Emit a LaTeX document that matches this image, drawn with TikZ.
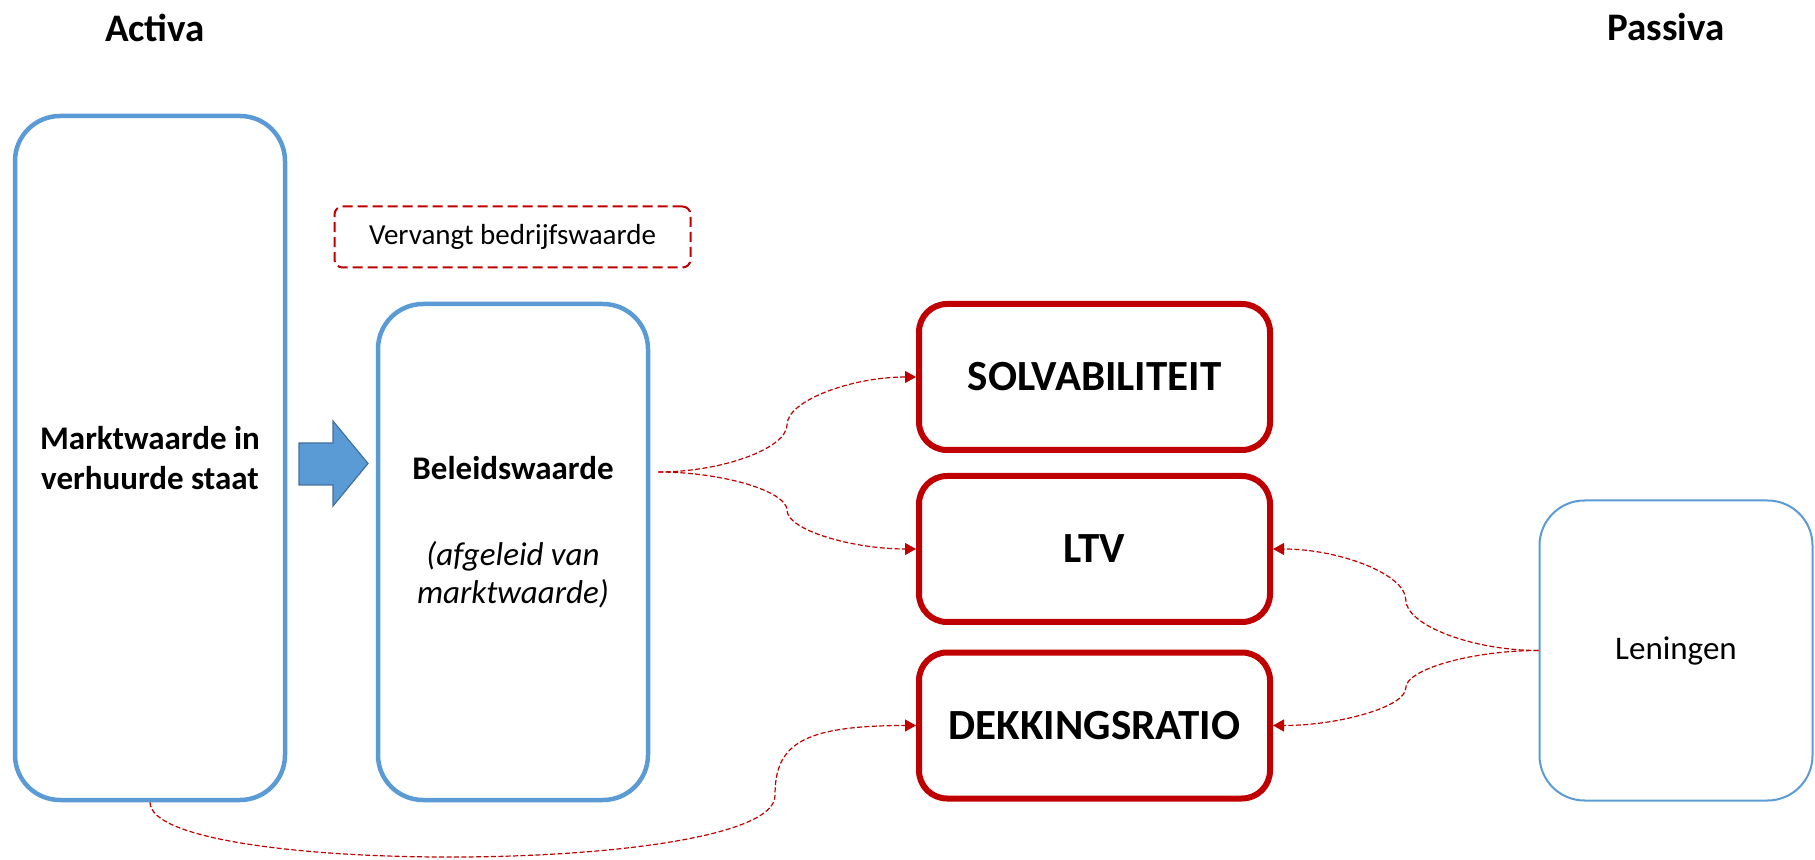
\documentclass[tikz,border=0pt]{standalone}
\usepackage{fontspec}
\setmainfont{Carlito}
\usetikzlibrary{arrows.meta,calc}
\definecolor{pblue}{HTML}{5B9BD5}
\definecolor{pdblue}{HTML}{41719C}
\definecolor{pred}{HTML}{C00000}
\begin{document}
\begin{tikzpicture}[x=0.5pt,y=-0.5pt,
  bluebox/.style={draw=pblue,line width=2.25pt,rounded corners=22.5pt,minimum width=135pt,align=center},
  redbox/.style={draw=pred,line width=3pt,rounded corners=14pt,minimum width=175.5pt,minimum height=73pt,font=\fontsize{21.5}{26}\selectfont\bfseries},
  conn/.style={draw=pred,line width=0.6pt,dash pattern=on 2.5pt off 1.2pt,-{Triangle[length=5.5pt,width=6pt]}},
  headtxt/.style={font=\fontsize{19.5}{23}\selectfont\bfseries},
  bodytxt/.style={font=\fontsize{16.5}{20.25}\selectfont\bfseries,align=center}]
\useasboundingbox (0,0) rectangle (1815,860);

% headers
\node[headtxt] (act) at (155,28) {Activa};
\node[headtxt] (pas) at (1666,27) {Passiva};

% blue boxes
\node[bluebox,minimum height=342pt,font=\fontsize{16.5}{20.25}\selectfont\bfseries] (A) at (150,458) {Marktwaarde in\\verhuurde staat};
\node[bluebox,minimum height=248pt] (B) at (513,552) {};
\node[bodytxt] (btitle) at (513,468) {Beleidswaarde};
\node[font=\fontsize{16.5}{19}\selectfont\itshape,align=center] (bsub) at (513,575) {(afgeleid van\\marktwaarde)};

% dashed note
\node[draw=pred,line width=1pt,dash pattern=on 5pt off 2.5pt,rounded corners=4pt,minimum width=178pt,minimum height=30.5pt,font=\fontsize{14.5}{17}\selectfont] (V) at (512.5,237) {Vervangt bedrijfswaarde};

% block arrow
\draw[draw=pdblue,fill=pblue,line width=0.6pt] (299,443) -- (333,443) -- (333,421) -- (368,463.5) -- (333,506) -- (333,485) -- (299,485) -- cycle;

% red boxes
\node[redbox] (S) at (1094.5,377) {SOLVABILITEIT};
\node[redbox] (L) at (1094.5,549) {LTV};
\node[redbox] (D) at (1094.5,725.5) {DEKKINGSRATIO};

% Leningen
\node[draw=pblue,line width=1pt,rounded corners=22.5pt,minimum width=136.5pt,minimum height=150pt,font=\fontsize{16.5}{20}\selectfont] (Len) at (1676,650.5) {Leningen};

% connectors from Beleidswaarde
\coordinate (bs) at ($(B.east |- btitle)+(8,4)$);
\coordinate (m1) at ($(bs)!0.5!(S.west)$);
\coordinate (m2) at ($(bs)!0.5!(L.west)$);
\draw[conn] (bs) .. controls ($(bs)!0.5!(bs -| m1)$) and ($(m1)!0.5!(m1 |- bs)$) .. (m1)
  .. controls ($(m1)!0.5!(m1 |- S.west)$) and ($(S.west)!0.5!(S.west -| m1)$) .. (S.west);
\draw[conn] (bs) .. controls ($(bs)!0.5!(bs -| m2)$) and ($(m2)!0.5!(m2 |- bs)$) .. (m2)
  .. controls ($(m2)!0.5!(m2 |- L.west)$) and ($(L.west)!0.5!(L.west -| m2)$) .. (L.west);

% connectors from Leningen
\coordinate (m4) at ($(Len.west)!0.5!(L.east)$);
\coordinate (m5) at ($(Len.west)!0.5!(D.east)$);
\draw[conn] (Len.west) .. controls ($(Len.west)!0.5!(Len.west -| m4)$) and ($(m4)!0.5!(m4 |- Len.west)$) .. (m4)
  .. controls ($(m4)!0.5!(m4 |- L.east)$) and ($(L.east)!0.5!(L.east -| m4)$) .. (L.east);
\draw[conn] (Len.west) .. controls ($(Len.west)!0.5!(Len.west -| m5)$) and ($(m5)!0.5!(m5 |- Len.west)$) .. (m5)
  .. controls ($(m5)!0.5!(m5 |- D.east)$) and ($(D.east)!0.5!(D.east -| m5)$) .. (D.east);

% connector from Marktwaarde to DEKKINGSRATIO
\coordinate (m3) at ($(D.west)+(-141,70)$);
\draw[conn] (A.south) .. controls ($(A.south)+(0,75)$) and ($(m3)+(0,80)$) .. (m3)
  .. controls ($(m3)+(0,-50)$) and ($(D.west)+(-116,0)$) .. (D.west);
\end{tikzpicture}
\end{document}
